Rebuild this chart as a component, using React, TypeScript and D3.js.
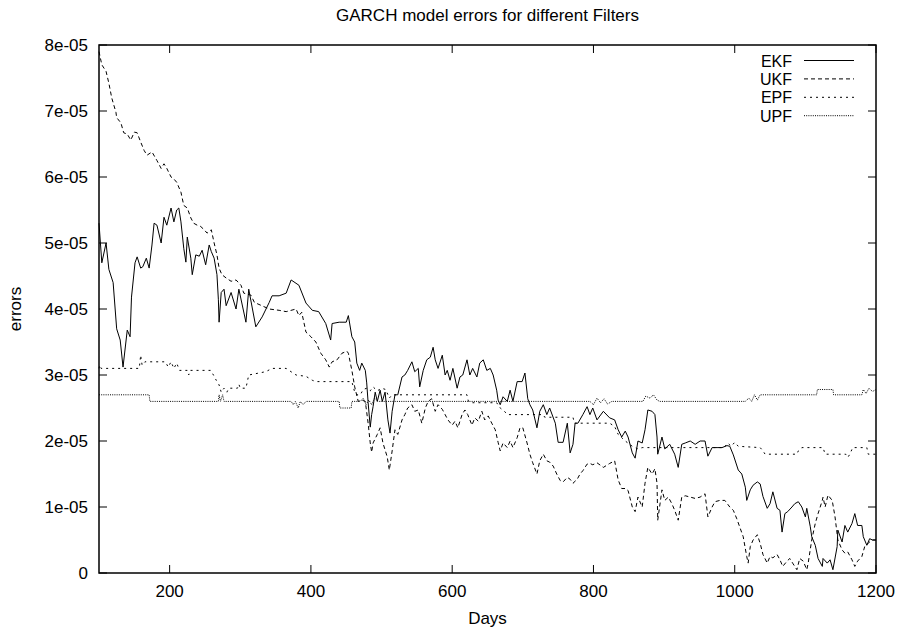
import React from "react";
import * as d3 from "d3";

// ---- data (values in units of 1e-5) ----
const UNIT = 1e-5;
const xTicks = [200, 400, 600, 800, 1000, 1200];
const xTickLabels = ["200", "400", "600", "800", "1000", "1200"];
const yTicks = [0, 1, 2, 3, 4, 5, 6, 7, 8];
const yTickLabels = ["0", "1e-05", "2e-05", "3e-05", "4e-05", "5e-05", "6e-05", "7e-05", "8e-05"];
const seriesNames = ["EKF", "UKF", "EPF", "UPF"];

const ekf: [number, number][] = [
  [100,5.3],[104,4.7],[110,5.0],[114,4.6],[120,4.4],[125,3.7],[130,3.53],[134,3.12],[140,3.68],[144,3.58],
  [146,4.18],[151,4.7],[154,4.79],[159,4.62],[162,4.64],[167,4.77],[171,4.62],[175,4.97],[178,5.3],[182,5.27],
  [188,5.0],[192,5.39],[196,5.27],[202,5.53],[206,5.32],[210,5.5],[213,5.53],[216,5.32],[220,4.92],[223,4.71],
  [225,5.09],[230,4.77],[232,4.52],[237,4.82],[242,4.8],[246,4.89],[251,4.67],[256,4.97],[259,4.87],[263,4.77],
  [267,4.52],[269,4.14],[270,3.8],[273,4.25],[277,4.3],[280,4.05],[287,4.25],[294,4.0],[298,4.3],[308,3.8],
  [312,4.3],[322,3.73],[331,3.88],[341,4.1],[345,4.2],[355,4.2],[365,4.24],[372,4.44],[383,4.36],[393,4.09],
  [402,3.98],[411,3.96],[421,3.78],[428,3.53],[430,3.78],[440,3.8],[450,3.8],[453,3.9],[458,3.58],[462,3.5],
  [465,3.18],[469,3.07],[472,3.18],[477,3.07],[479,2.88],[481,2.58],[484,2.21],[486,2.4],[488,2.52],[491,2.74],
  [494,2.6],[498,2.77],[501,2.6],[505,2.74],[509,2.32],[512,2.12],[515,2.45],[519,2.7],[523,2.7],[529,2.97],
  [533,3.0],[537,3.07],[543,3.2],[547,3.05],[552,3.1],[554,2.82],[559,3.07],[564,3.23],[569,3.27],[573,3.42],
  [576,3.23],[580,3.1],[586,3.3],[590,3.0],[593,3.07],[597,2.92],[601,3.1],[607,2.8],[611,2.97],[615,3.0],
  [621,3.23],[625,3.0],[629,3.1],[635,2.97],[639,3.18],[644,3.23],[649,3.07],[654,3.1],[658,3.0],[663,2.77],
  [665,2.62],[668,2.55],[672,2.67],[678,2.6],[682,2.77],[686,2.6],[692,2.9],[699,2.9],[703,3.03],[707,2.64],
  [710,2.55],[714,2.47],[720,2.2],[724,2.45],[729,2.55],[734,2.4],[738,2.5],[746,2.27],[750,1.98],[757,1.98],
  [763,2.27],[767,1.82],[771,1.95],[774,2.27],[778,2.27],[785,2.4],[791,2.52],[795,2.4],[799,2.5],[805,2.32],
  [814,2.45],[823,2.35],[830,2.32],[835,2.17],[840,2.06],[845,2.15],[849,2.06],[855,1.82],[859,1.74],[863,2.0],
  [869,1.97],[873,2.17],[877,2.47],[883,2.45],[887,2.4],[890,2.06],[891,1.8],[897,2.06],[901,1.88],[908,1.95],
  [915,1.8],[920,1.6],[925,1.95],[930,1.97],[937,2.0],[944,1.95],[951,2.0],[958,2.0],[962,1.77],[968,1.9],
  [975,1.9],[982,1.9],[989,1.93],[993,1.92],[998,1.79],[1005,1.56],[1010,1.5],[1015,1.3],[1017,1.1],[1022,1.26],
  [1026,1.33],[1032,1.38],[1036,1.35],[1040,1.16],[1046,0.98],[1050,1.05],[1054,1.23],[1060,0.98],[1064,0.95],[1067,0.62],
  [1071,0.9],[1075,0.93],[1081,1.0],[1085,1.05],[1090,1.08],[1095,1.0],[1100,0.85],[1102,0.98],[1107,0.7],[1109,0.55],
  [1114,0.42],[1118,0.22],[1124,0.1],[1125,0.22],[1131,0.15],[1135,0.2],[1139,0.05],[1145,0.4],[1146,0.65],[1152,0.47],
  [1156,0.72],[1160,0.62],[1166,0.75],[1170,0.9],[1174,0.72],[1180,0.72],[1182,0.55],[1187,0.42],[1191,0.52],[1195,0.5],
  [1200,0.5]
];

const ukf: [number, number][] = [
  [100,7.9],[104,7.7],[110,7.6],[114,7.42],[118,7.2],[124,6.98],[125,6.9],[131,6.82],[135,6.67],[140,6.65],
  [145,6.56],[150,6.68],[154,6.67],[159,6.53],[164,6.4],[168,6.33],[175,6.38],[182,6.25],[188,6.13],[192,6.2],
  [196,6.13],[202,6.0],[206,5.97],[210,5.92],[216,5.77],[220,5.57],[225,5.53],[230,5.38],[234,5.3],[239,5.27],
  [244,5.25],[249,5.2],[253,5.15],[259,5.2],[263,5.0],[267,4.82],[270,4.62],[274,4.52],[280,4.47],[287,4.42],
  [294,4.44],[301,4.36],[305,4.24],[315,4.21],[320,4.1],[341,4.0],[355,3.98],[365,3.96],[379,4.0],[383,3.9],
  [387,3.95],[393,3.65],[400,3.58],[407,3.5],[414,3.33],[421,3.23],[426,3.12],[430,3.2],[437,3.23],[444,3.33],
  [451,3.36],[453,3.33],[458,3.07],[462,2.82],[467,2.6],[472,2.62],[477,2.6],[481,2.27],[484,1.97],[486,1.83],
  [488,1.97],[494,2.1],[498,2.2],[502,1.97],[508,1.76],[511,1.56],[515,1.85],[519,2.17],[523,2.1],[529,2.32],
  [533,2.4],[537,2.5],[543,2.55],[547,2.45],[552,2.47],[557,2.27],[562,2.5],[566,2.6],[571,2.64],[576,2.45],
  [580,2.55],[586,2.48],[590,2.4],[594,2.32],[600,2.24],[604,2.3],[608,2.2],[614,2.4],[618,2.47],[622,2.4],
  [628,2.24],[632,2.35],[637,2.3],[642,2.45],[646,2.32],[651,2.38],[656,2.27],[661,2.17],[665,1.98],[668,1.85],
  [672,1.97],[678,1.9],[682,2.0],[686,1.9],[692,2.05],[696,2.2],[700,2.2],[706,1.97],[710,1.8],[714,1.67],
  [720,1.5],[724,1.7],[729,1.8],[734,1.7],[738,1.68],[743,1.62],[748,1.5],[753,1.4],[757,1.38],[763,1.45],
  [767,1.42],[771,1.36],[777,1.42],[781,1.5],[785,1.55],[791,1.65],[795,1.66],[799,1.64],[805,1.67],[814,1.6],
  [823,1.66],[830,1.7],[835,1.41],[840,1.28],[845,1.28],[849,1.25],[855,1.0],[859,0.93],[863,1.15],[869,1.0],
  [873,1.36],[877,1.6],[883,1.5],[887,1.58],[890,1.36],[891,0.8],[897,1.26],[901,1.1],[906,1.15],[911,1.05],
  [915,0.95],[920,0.8],[925,1.15],[930,1.17],[937,1.15],[944,1.13],[951,1.15],[958,1.2],[962,0.85],[968,1.0],
  [972,1.08],[979,1.1],[986,1.1],[993,1.0],[998,0.95],[1003,0.82],[1007,0.7],[1012,0.55],[1017,0.25],[1019,0.15],
  [1022,0.4],[1026,0.5],[1032,0.58],[1036,0.45],[1040,0.28],[1046,0.15],[1050,0.25],[1054,0.23],[1060,0.28],[1064,0.2],
  [1068,0.1],[1074,0.18],[1078,0.22],[1082,0.15],[1088,0.05],[1092,0.22],[1097,0.18],[1102,0.05],[1104,0.15],[1109,0.5],
  [1114,0.75],[1118,0.9],[1124,1.1],[1125,1.15],[1128,1.0],[1132,1.18],[1138,1.1],[1142,0.85],[1146,0.5],[1152,0.35],
  [1156,0.3],[1160,0.32],[1166,0.2],[1170,0.1],[1174,0.18],[1180,0.25],[1184,0.4],[1189,0.45],[1194,0.5],[1200,0.5]
];

const epf: [number, number][] = [
  [100,3.1],[101,3.15],[103,3.1],[157,3.1],[159,3.3],[161,3.15],[165,3.2],[194,3.2],[198,3.12],[202,3.2],
  [206,3.1],[210,3.18],[214,3.07],[225,3.07],[227,3.0],[229,3.07],[258,3.07],[262,3.0],[266,2.92],[270,2.85],
  [273,2.74],[277,2.8],[281,2.74],[284,2.8],[296,2.8],[298,2.86],[300,2.8],[308,2.8],[312,3.0],[336,3.05],
  [345,3.1],[365,3.1],[369,3.07],[379,3.0],[393,2.98],[402,2.92],[407,2.9],[458,2.9],[462,2.74],[465,2.7],
  [470,2.7],[474,2.78],[479,2.8],[484,2.76],[488,2.82],[494,2.76],[500,2.8],[506,2.78],[511,2.65],[515,2.7],
  [621,2.7],[623,2.6],[629,2.58],[663,2.58],[668,2.5],[674,2.45],[678,2.4],[729,2.4],[731,2.36],[771,2.36],
  [773,2.27],[823,2.27],[830,2.22],[835,2.1],[845,2.0],[855,1.92],[863,1.88],[869,1.9],[985,1.9],[990,1.97],
  [995,1.92],[1000,1.98],[1005,1.92],[1036,1.9],[1040,1.85],[1043,1.8],[1088,1.8],[1090,1.85],[1095,1.9],[1125,1.9],
  [1128,1.8],[1157,1.8],[1160,1.75],[1163,1.8],[1167,1.9],[1187,1.9],[1189,1.8],[1200,1.8]
];

const upf: [number, number][] = [
  [100,2.7],[171,2.7],[172,2.6],[269,2.6],[270,2.7],[272,2.6],[275,2.7],[277,2.6],[372,2.6],[375,2.55],
  [378,2.6],[382,2.5],[385,2.6],[389,2.55],[393,2.6],[440,2.6],[441,2.5],[457,2.5],[458,2.6],[470,2.6],
  [474,2.65],[478,2.55],[482,2.62],[486,2.55],[490,2.65],[495,2.6],[795,2.6],[800,2.55],[805,2.65],[810,2.58],
  [815,2.64],[820,2.56],[826,2.6],[870,2.6],[874,2.68],[880,2.65],[885,2.7],[890,2.62],[894,2.6],[1015,2.6],
  [1020,2.65],[1024,2.6],[1028,2.7],[1032,2.62],[1036,2.7],[1116,2.7],[1117,2.78],[1139,2.78],[1140,2.7],[1180,2.7],
  [1182,2.78],[1186,2.72],[1190,2.8],[1195,2.75],[1200,2.78]
];

const seriesData = [ekf, ukf, epf, upf];
const dashes = ["none", "4,3", "2,4", "1,1.2"];

const W = 901, H = 631;
const L = 99, R = 876, T = 45, B = 573;
const FONT = "'Liberation Sans', Arial, Helvetica, sans-serif";

export default function App() {
  const x = d3.scaleLinear().domain([100, 1200]).range([L, R]);
  const y = d3.scaleLinear().domain([0, 8e-5]).range([B, T]);
  const line = d3.line<[number, number]>()
    .x((d) => x(d[0]))
    .y((d) => y(d[1] * UNIT));
  const fs = 17;
  const legendFs = 16;
  const legendStep = 18.4;
  const legendTop = 60.5;

  return (
    <svg width={W} height={H} style={{ position: "absolute", left: 0, top: 0, background: "#fff" }}
      fontFamily={FONT}>
      <rect x={0} y={0} width={W} height={H} fill="#fff" />
      <text x={(L + R) / 2} y={21} fontSize={fs} textAnchor="middle">GARCH model errors for different Filters</text>
      <text x={(L + R) / 2} y={624} fontSize={fs} textAnchor="middle">Days</text>
      <text transform={`translate(21,${(T + B) / 2}) rotate(-90)`} fontSize={fs} textAnchor="middle">errors</text>

      {yTicks.map((t, i) => (
        <g key={"y" + t}>
          <line x1={L} x2={L + 8} y1={y(t * UNIT)} y2={y(t * UNIT)} stroke="#000" strokeWidth={1} />
          <line x1={R} x2={R - 8} y1={y(t * UNIT)} y2={y(t * UNIT)} stroke="#000" strokeWidth={1} />
          <text x={L - 11} y={y(t * UNIT) + 6} fontSize={fs} textAnchor="end">{yTickLabels[i]}</text>
        </g>
      ))}
      {xTicks.map((t, i) => (
        <g key={"x" + t}>
          <line x1={x(t)} x2={x(t)} y1={B} y2={B - 8} stroke="#000" strokeWidth={1} />
          <line x1={x(t)} x2={x(t)} y1={T} y2={T + 8} stroke="#000" strokeWidth={1} />
          <text x={x(t)} y={597} fontSize={fs} textAnchor="middle">{xTickLabels[i]}</text>
        </g>
      ))}

      <g fill="none" stroke="#000" strokeWidth={1}>
        {seriesData.map((s, i) => (
          <path key={seriesNames[i]} d={line(s) || ""} strokeDasharray={dashes[i]} />
        ))}
      </g>

      {seriesNames.map((n, i) => (
        <g key={"lg" + n}>
          <text x={792} y={legendTop + i * legendStep + 6} fontSize={legendFs} textAnchor="end">{n}</text>
          <line x1={804} x2={854} y1={legendTop + i * legendStep} y2={legendTop + i * legendStep}
            stroke="#000" strokeWidth={1} strokeDasharray={dashes[i]} />
        </g>
      ))}

      <rect x={L} y={T} width={R - L} height={B - T} fill="none" stroke="#000" strokeWidth={1.5} />
    </svg>
  );
}
